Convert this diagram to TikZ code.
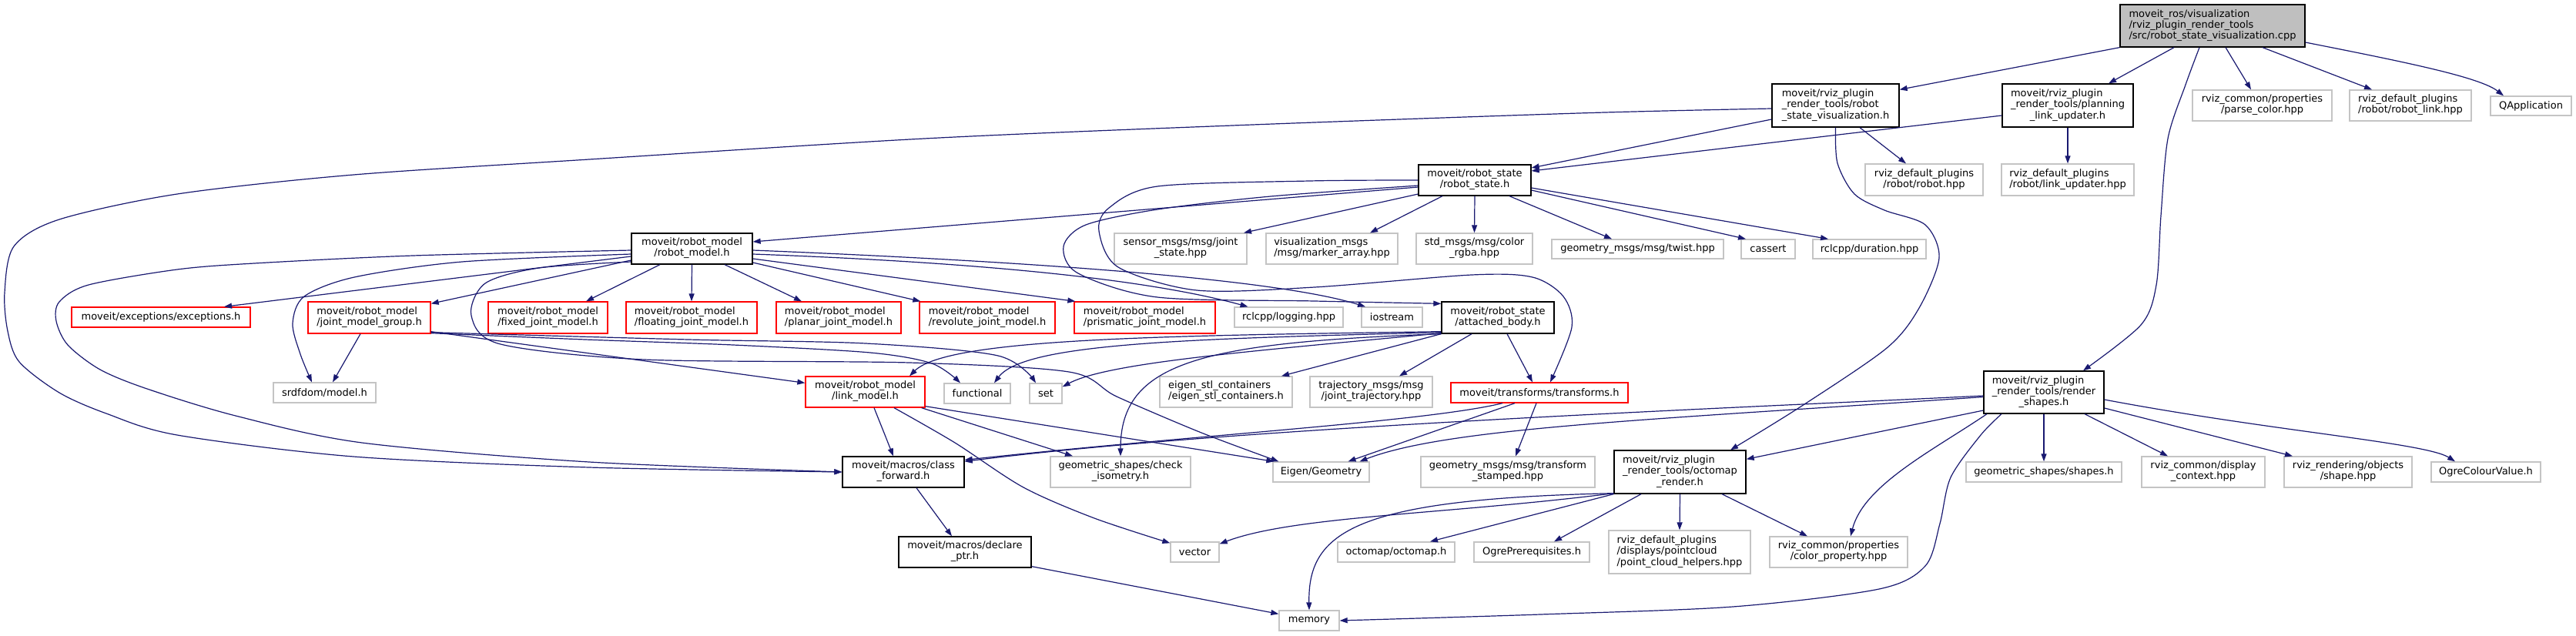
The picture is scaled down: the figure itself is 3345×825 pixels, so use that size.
\documentclass[tikz,border=0pt]{standalone}
\usepackage{fontspec}
\setmainfont{DejaVu Sans}
\usetikzlibrary{arrows.meta,calc}
\definecolor{eblue}{HTML}{191970}
\definecolor{gbord}{HTML}{C4C4C4}
\definecolor{gfill}{HTML}{BFBFBF}
\definecolor{rbord}{HTML}{FF0000}
\newcommand{\ml}[2]{\begin{tabular}{@{}l@{}}#1\\\multicolumn{1}{@{}c@{}}{#2}\end{tabular}}
\newcommand{\bx}[7]{\node[#2,minimum width={#5-#3},minimum height={#6-#4}] (#1) at ({(#3+#5)/2},{(#4+#6)/2}) {#7};}
\begin{document}
\begin{tikzpicture}[x=1pt,y=-1pt,
  nbase/.style={rectangle,inner sep=0pt,line width=1.3pt,fill=white,font=\fontsize{13}{14.2}\selectfont},
  nb/.style={nbase,draw=black},
  ng/.style={nbase,draw=gbord},
  nr/.style={nbase,draw=rbord},
  nm/.style={nbase,draw=black,fill=gfill},
  lnk/.style={draw=eblue,line width=1.2pt,-{Triangle[length=10pt,width=7pt]}}]
\useasboundingbox (0,0) rectangle (3345,825);
% nodes
\bx{main}{nm}{2753}{6}{2993}{61}{\ml{moveit\_ros/visualization\\/rviz\_plugin\_render\_tools}{/src/robot\_state\_visualization.cpp}}
\bx{rsv}{nb}{2301}{109}{2466}{165}{\ml{moveit/rviz\_plugin\\\_render\_tools/robot}{\_state\_visualization.h}}
\bx{plu}{nb}{2600}{109}{2770}{165}{\ml{moveit/rviz\_plugin\\\_render\_tools/planning}{\_link\_updater.h}}
\bx{pc}{ng}{2847}{117}{3028}{157}{\ml{rviz\_common/properties}{/parse\_color.hpp}}
\bx{rl}{ng}{3051}{117}{3209}{157}{\ml{rviz\_default\_plugins}{/robot/robot\_link.hpp}}
\bx{qa}{ng}{3234}{125}{3339}{150}{QApplication}
\bx{robot}{ng}{2422}{213}{2575}{254}{\ml{rviz\_default\_plugins}{/robot/robot.hpp}}
\bx{lu}{ng}{2599}{213}{2771}{254}{\ml{rviz\_default\_plugins}{/robot/link\_updater.hpp}}
\bx{rs}{nb}{1842}{214}{1988}{254}{\ml{moveit/robot\_state}{/robot\_state.h}}
\bx{js}{ng}{1447}{303}{1619}{343}{\ml{sensor\_msgs/msg/joint}{\_state.hpp}}
\bx{ma}{ng}{1644}{303}{1815}{343}{\ml{visualization\_msgs}{/msg/marker\_array.hpp}}
\bx{cr}{ng}{1839}{303}{1990}{343}{\ml{std\_msgs/msg/color}{\_rgba.hpp}}
\bx{tw}{ng}{2015}{311}{2238}{336}{geometry\_msgs/msg/twist.hpp}
\bx{ca}{ng}{2261}{311}{2331}{336}{cassert}
\bx{du}{ng}{2354}{311}{2501}{336}{rclcpp/duration.hpp}
\bx{rm}{nb}{820}{303}{977}{343}{\ml{moveit/robot\_model}{/robot\_model.h}}
\bx{ex}{nr}{93}{399}{325}{425}{moveit/exceptions/exceptions.h}
\bx{jmg}{nr}{400}{392}{559}{433}{\ml{moveit/robot\_model}{/joint\_model\_group.h}}
\bx{fj}{nr}{634}{392}{789}{433}{\ml{moveit/robot\_model}{/fixed\_joint\_model.h}}
\bx{flj}{nr}{813}{392}{983}{433}{\ml{moveit/robot\_model}{/floating\_joint\_model.h}}
\bx{pj}{nr}{1008}{392}{1170}{433}{\ml{moveit/robot\_model}{/planar\_joint\_model.h}}
\bx{rj}{nr}{1194}{392}{1370}{433}{\ml{moveit/robot\_model}{/revolute\_joint\_model.h}}
\bx{prj}{nr}{1395}{392}{1578}{433}{\ml{moveit/robot\_model}{/prismatic\_joint\_model.h}}
\bx{lg}{ng}{1603}{399}{1744}{425}{rclcpp/logging.hpp}
\bx{io}{ng}{1768}{399}{1847}{425}{iostream}
\bx{ab}{nb}{1872}{392}{2018}{433}{\ml{moveit/robot\_state}{/attached\_body.h}}
\bx{fn}{ng}{1226}{498}{1312}{524}{functional}
\bx{st}{ng}{1337}{498}{1379}{524}{set}
\bx{es}{ng}{1506}{489}{1678}{529}{\ml{eigen\_stl\_containers}{/eigen\_stl\_containers.h}}
\bx{tj}{ng}{1701}{489}{1860}{529}{\ml{trajectory\_msgs/msg}{/joint\_trajectory.hpp}}
\bx{tf}{nr}{1884}{497}{2114}{523}{moveit/transforms/transforms.h}
\bx{lm}{nr}{1046}{489}{1201}{529}{\ml{moveit/robot\_model}{/link\_model.h}}
\bx{sd}{ng}{355}{497}{488}{523}{srdfdom/model.h}
\bx{cf}{nb}{1094}{593}{1252}{633}{\ml{moveit/macros/class}{\_forward.h}}
\bx{ci}{ng}{1364}{593}{1546}{633}{\ml{geometric\_shapes/check}{\_isometry.h}}
\bx{eg}{ng}{1653}{600}{1778}{626}{Eigen/Geometry}
\bx{ts}{ng}{1845}{593}{2071}{633}{\ml{geometry\_msgs/msg/transform}{\_stamped.hpp}}
\bx{dp}{nb}{1167}{697}{1339}{737}{\ml{moveit/macros/declare}{\_ptr.h}}
\bx{ve}{ng}{1520}{704}{1583}{730}{vector}
\bx{me}{ng}{1661}{793}{1739}{819}{memory}
\bx{oo}{ng}{1737}{704}{1889}{730}{octomap/octomap.h}
\bx{op}{ng}{1914}{704}{2064}{730}{OgrePrerequisites.h}
\bx{or}{nb}{2096}{585}{2267}{641}{\ml{moveit/rviz\_plugin\\\_render\_tools/octomap}{\_render.h}}
\bx{pch}{ng}{2089}{689}{2273}{745}{\ml{rviz\_default\_plugins\\/displays/pointcloud}{/point\_cloud\_helpers.hpp}}
\bx{cp}{ng}{2298}{697}{2477}{737}{\ml{rviz\_common/properties}{/color\_property.hpp}}
\bx{gs}{ng}{2553}{600}{2755}{626}{geometric\_shapes/shapes.h}
\bx{dc}{ng}{2781}{593}{2941}{633}{\ml{rviz\_common/display}{\_context.hpp}}
\bx{rsh}{ng}{2966}{593}{3132}{633}{\ml{rviz\_rendering/objects}{/shape.hpp}}
\bx{ocv}{ng}{3157}{600}{3299}{626}{OgreColourValue.h}
\bx{rsn}{nb}{2576}{482}{2732}{537}{\ml{moveit/rviz\_plugin\\\_render\_tools/render}{\_shapes.h}}
% edges from main
\draw[lnk] (main.south west) -- ([yshift=-8pt]rsv.north east);
\draw[lnk] ([xshift=-50pt]main.south) -- ([xshift=53pt]plu.north);
\draw[lnk] plot[smooth] coordinates {([xshift=-17pt]main.south) (2838,110) (2815,180) (2806,280) (2800,370) (2780,422) ([xshift=51pt]rsn.north)};
\draw[lnk] ([xshift=17pt]main.south) -- ([xshift=-14.5pt]pc.north);
\draw[lnk] ([xshift=65pt]main.south) -- ([xshift=-50pt]rl.north);
\draw[lnk] ([yshift=-21.5pt]main.east) .. controls (3120,80) and (3220,100) .. ([xshift=-35.5pt]qa.north);
% rsv / plu
\draw[lnk] ([yshift=-18pt]rsv.west) -- ([yshift=16pt]rs.east);
\draw[lnk] ([yshift=-13pt]plu.west) -- ([yshift=12pt]rs.east);
\draw[lnk] ([xshift=31.5pt]rsv.south) -- ([xshift=-23.5pt]robot.north);
\draw[lnk] plot[smooth] coordinates {(rsv.south) (2386,212) (2408,252) (2447,273) (2500,292) (2518,335) (2492,400) (2450,452) (2340,527) ([xshift=65.5pt]or.north)};
\draw[lnk] plot[smooth] coordinates {([yshift=-4pt]rsv.west) (2050,147) (1600,163) (1200,180) (765,207) (459,227) (230,252) (77,285) (18,320) (6,380) (10,430) (25,470) (77,510) (138,537) (230,565) (459,593) (765,607) (cf.west)};
\draw[lnk] (plu.south) -- (lu.north);
% rs
\draw[lnk] ([yshift=-9pt]rs.west) -- ([yshift=9pt]rm.east);
\draw[lnk] ([yshift=-18pt]rs.west) -- ([xshift=82pt]js.north);
\draw[lnk] ([xshift=-42pt]rs.south) -- ([xshift=49.5pt]ma.north);
\draw[lnk] (rs.south) -- (cr.north);
\draw[lnk] ([xshift=45pt]rs.south) -- ([xshift=-33.5pt]tw.north);
\draw[lnk] ([yshift=-13pt]rs.east) -- ([xshift=-29pt]ca.north);
\draw[lnk] ([yshift=-10pt]rs.east) -- ([xshift=-53.5pt]du.north);
\draw[lnk] plot[smooth] coordinates {(rs.west) (1700,235) (1503,242) (1440,270) (1427,300) (1452,347) (1554,377) (1707,373) (1911,357) (1990,360) (2030,385) (2041,425) ([xshift=14pt]tf.north)};
\draw[lnk] plot[smooth] coordinates {([yshift=-7pt]rs.west) (1650,255) (1503,272) (1410,292) (1381,320) (1400,355) (1503,386) (1707,391) ([yshift=-3pt]ab.north west)};
% rm
\draw[lnk] ([yshift=-10pt]rm.west) -- ([xshift=82pt]ex.north);
\draw[lnk] ([yshift=-15pt]rm.west) -- ([yshift=-3pt]jmg.north east);
\draw[lnk] ([xshift=-41.5pt]rm.south) -- ([xshift=49.5pt]fj.north);
\draw[lnk] (rm.south) -- (flj.north);
\draw[lnk] ([xshift=42.5pt]rm.south) -- ([xshift=-48pt]pj.north);
\draw[lnk] ([yshift=-18pt]rm.east) -- ([xshift=2pt]rj.north west);
\draw[lnk] ([yshift=-13pt]rm.east) -- ([xshift=2pt]prj.north west);
\draw[lnk] ([yshift=-7pt]rm.east) .. controls (1250,340) and (1480,360) .. ([xshift=-53pt]lg.north);
\draw[lnk] ([yshift=-2pt]rm.east) .. controls (1300,338) and (1650,360) .. ([xshift=-34.5pt]io.north);
\draw[lnk] plot[smooth] coordinates {([yshift=-7pt]rm.west) (600,340) (460,360) (395,385) (380,420) (390,460) ([xshift=-16.5pt]sd.north)};
\draw[lnk] plot[smooth] coordinates {([yshift=-2pt]rm.west) (536,332) (330,342) (230,350) (115,370) (77,392) (73,417) (88,448) (130,480) (191,505) (306,540) (470,575) (765,600) (cf.west)};
\draw[lnk] plot[smooth] coordinates {([yshift=-17pt]rm.west) (700,348) (630,368) (612,410) (650,447) (837,467) (1181,471) (1388,483) (1450,515) (1560,562) ([xshift=8pt]eg.north west)};
% jmg
\draw[lnk] ([xshift=-11.5pt]jmg.south) -- ([xshift=10.5pt]sd.north);
\draw[lnk] ([yshift=3pt]jmg.south east) -- ([yshift=-9pt]lm.north west);
\draw[lnk] plot[smooth] coordinates {([yshift=1pt]jmg.south east) (760,441) (952,448) (1130,458) (1210,472) ([xshift=-22pt]fn.north)};
\draw[lnk] plot[smooth] coordinates {([yshift=2pt]jmg.south east) (894,441) (1124,446) (1296,462) ([xshift=-13pt]st.north)};
% lm
\draw[lnk] ([xshift=11.5pt]lm.south) -- ([xshift=-13pt]cf.north);
\draw[lnk] plot[smooth] coordinates {([xshift=37.5pt]lm.south) (1240,575) (1329,633) (1421,673) ([yshift=-2pt]ve.north west)};
\draw[lnk] ([xshift=-5pt]lm.south east) -- ([xshift=-62pt]ci.north);
\draw[lnk] ([yshift=2pt]lm.south east) -- ([xshift=2pt]eg.north west);
% ab
\draw[lnk] (ab.south west) -- ([xshift=72pt]es.north);
\draw[lnk] ([xshift=-34pt]ab.south) -- ([xshift=36.5pt]tj.north);
\draw[lnk] ([xshift=12pt]ab.south) -- ([xshift=-9pt]tf.north);
\draw[lnk] ([yshift=1pt]ab.south west) .. controls (1640,455) and (1440,470) .. ([yshift=-5pt]st.north east);
\draw[lnk] ([yshift=2pt]ab.south west) .. controls (1550,440) and (1330,445) .. ([xshift=22pt]fn.north);
\draw[lnk] ([yshift=3pt]ab.south west) .. controls (1500,436) and (1230,440) .. ([xshift=57.5pt]lm.north);
\draw[lnk] (ab.south west) .. controls (1560,445) and (1455,470) .. (ci.north);
% tf
\draw[lnk] ([xshift=-48pt]tf.south) .. controls (1850,548) and (1550,565) .. ([yshift=-5pt]cf.north east);
\draw[lnk] ([xshift=-32pt]tf.south) -- ([xshift=35pt]eg.north);
\draw[lnk] ([xshift=-4pt]tf.south) -- ([xshift=10pt]ts.north);
% rsn
\draw[lnk] ([yshift=-4.5pt]rsn.west) .. controls (2250,530) and (1600,555) .. ([yshift=-7pt]cf.north east);
\draw[lnk] ([yshift=-6pt]rsn.west) .. controls (2150,545) and (1880,555) .. ([xshift=50pt]eg.north);
\draw[lnk] ([yshift=-23.5pt]rsn.west) -- ([yshift=-12pt]or.north east);
\draw[lnk] ([xshift=-74pt]rsn.south) .. controls (2510,585) and (2420,630) .. ([xshift=15.5pt]cp.north);
\draw[lnk] plot[smooth] coordinates {([xshift=-55pt]rsn.south) (2572,565) (2533,620) (2519,680) (2500,735) (2440,765) (2250,788) (2000,798) (me.east)};
\draw[lnk] (rsn.south) -- (gs.north);
\draw[lnk] ([xshift=53pt]rsn.south) -- ([xshift=-46pt]dc.north);
\draw[lnk] ([yshift=-20.5pt]rsn.east) -- ([xshift=-72pt]rsh.north);
\draw[lnk] ([yshift=-9.5pt]rsn.east) .. controls (2950,560) and (3150,575) .. ([xshift=-40pt]ocv.north);
% or
\draw[lnk] ([yshift=1pt]or.south west) .. controls (1880,668) and (1680,670) .. ([yshift=-3pt]ve.north east);
\draw[lnk] ([yshift=1pt]or.south west) .. controls (1760,648) and (1698,690) .. (me.north);
\draw[lnk] (or.south west) -- ([xshift=44pt]oo.north);
\draw[lnk] ([xshift=-50.5pt]or.south) -- ([xshift=29pt]op.north);
\draw[lnk] (or.south) -- (pch.north);
\draw[lnk] ([xshift=54.5pt]or.south) -- ([xshift=-40.5pt]cp.north);
% cf / dp
\draw[lnk] ([xshift=17pt]cf.south) -- ([xshift=-17pt]dp.north);
\draw[lnk] ([yshift=2pt]dp.south east) -- ([yshift=-5pt]me.north west);
\end{tikzpicture}
\end{document}
